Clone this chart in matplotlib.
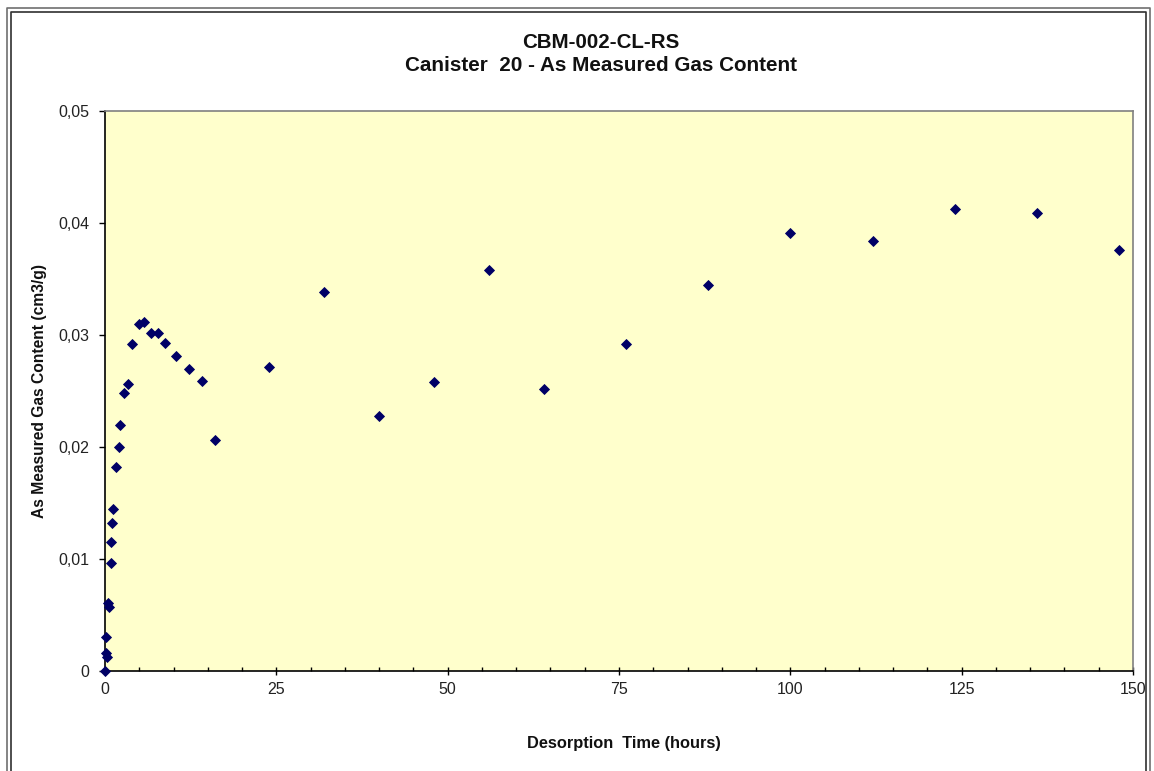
import matplotlib
matplotlib.use("Agg")
import matplotlib.pyplot as plt
from matplotlib.ticker import FuncFormatter, MultipleLocator
from matplotlib.lines import Line2D

plt.rcParams['font.family'] = ['Liberation Sans', 'DejaVu Sans']

hours = [0.0, 0.2, 0.35, 0.15, 0.65, 0.5, 0.85, 0.85, 1.0, 1.2, 1.6, 2.0, 2.2,
         2.7, 3.3, 4.0, 4.9, 5.7, 6.7, 7.7, 8.75, 10.3, 12.2, 14.1, 16.0,
         24, 32, 40, 48, 56, 64, 76, 88, 100, 112, 124, 136, 148]
gas = [0.0, 0.00163, 0.00128, 0.00306, 0.00574, 0.0061, 0.00967, 0.01155,
       0.01324, 0.01443, 0.01818, 0.01997, 0.02196, 0.0248, 0.0256, 0.0292,
       0.03095, 0.0312, 0.0302, 0.0302, 0.02926, 0.0281, 0.0270, 0.0259,
       0.02065, 0.02711, 0.03387, 0.0228, 0.0258, 0.0358, 0.02515, 0.02922,
       0.03443, 0.03908, 0.0384, 0.04125, 0.04092, 0.03759]

title_lines = ["CBM-002-CL-RS", "Canister  20 - As Measured Gas Content"]
x_label = "Desorption  Time (hours)"
y_label = "As Measured Gas Content (cm3/g)"

W, H = 1154, 771
fig = plt.figure(figsize=(W / 100, H / 100), dpi=100)
ax = fig.add_axes([105 / W, (H - 671) / H, (1133 - 105) / W, (671 - 111) / H])
ax.set_facecolor('#FFFFCC')

ax.plot(hours, gas, linestyle='none', marker='D', markersize=5,
        markeredgewidth=0.6, color='#000066', markeredgecolor='#000066',
        clip_on=False, zorder=5)

ax.set_xlim(0, 150)
ax.set_ylim(0, 0.05)
ax.xaxis.set_major_locator(MultipleLocator(25))
ax.xaxis.set_minor_locator(MultipleLocator(5))
ax.yaxis.set_major_locator(MultipleLocator(0.01))

ax.xaxis.set_major_formatter(FuncFormatter(lambda v, p: f"{v:g}"))
ax.yaxis.set_major_formatter(FuncFormatter(
    lambda v, p: "0" if abs(v) < 1e-12 else f"{v:.2f}".replace('.', ',')))

ax.tick_params(axis='x', which='major', direction='inout', length=6, width=1,
               labelsize=11.5, pad=5, colors='black', labelcolor='#222222')
ax.tick_params(axis='x', which='minor', direction='in', length=3, width=1)
ax.tick_params(axis='y', which='major', direction='out', length=4, width=1,
               labelsize=11.5, pad=7, labelcolor='#222222')

for s in ['left', 'bottom']:
    ax.spines[s].set_color('black')
    ax.spines[s].set_linewidth(1.2)
for s in ['top', 'right']:
    ax.spines[s].set_color('#808080')
    ax.spines[s].set_linewidth(1.2)

t1 = fig.text(601 / W, 1 - 48 / H, title_lines[0], ha='center', va='baseline',
              fontsize=13, fontweight='bold', color='#111111')
t2 = fig.text(601 / W, 1 - 71 / H, title_lines[1], ha='center', va='baseline',
              fontsize=13, fontweight='bold', color='#111111')
xl = fig.text(624 / W, 1 - 748 / H, x_label, ha='center', va='baseline',
              fontsize=11.5, fontweight='bold', color='#111111')
yl = fig.text(40 / W, 1 - 391 / H, y_label, ha='center', va='center',
              fontsize=11.5, fontweight='bold', rotation=90, color='#111111')

# size the text blocks to the widths measured on the reference
renderer = fig.canvas.get_renderer()
for txt, target, horiz in [(t1, 158, True), (t2, 391, True), (xl, 195, True), (yl, 256, False)]:
    bb = txt.get_window_extent(renderer)
    cur = bb.width if horiz else bb.height
    txt.set_fontsize(txt.get_fontsize() * target / cur)

# outer double border
for (l, t, r), c in [((7, 8, 1150), '#707070'), ((11, 12, 1146), '#303030')]:
    xs = [l / W, l / W, r / W, r / W]
    ys = [-0.01, 1 - t / H, 1 - t / H, -0.01]
    fig.add_artist(Line2D(xs, ys, transform=fig.transFigure, color=c, linewidth=1.2))

fig.savefig("out.png", dpi=100, facecolor='white')
